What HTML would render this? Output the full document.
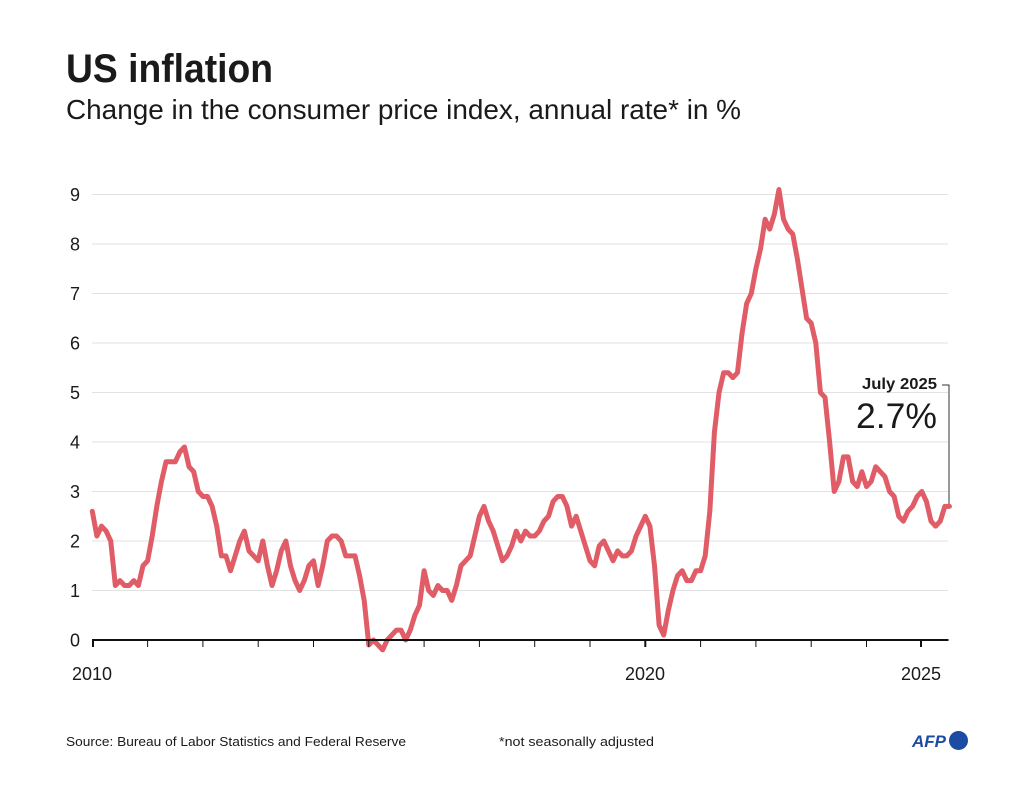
<!DOCTYPE html>
<html>
<head>
<meta charset="utf-8">
<style>
  html, body { margin: 0; padding: 0; background: #ffffff; }
  svg { display: block; }
  text { font-family: "Liberation Sans", "DejaVu Sans", sans-serif; fill: #1a1a1a; }
</style>
</head>
<body>
<svg width="1024" height="803" viewBox="0 0 1024 803" xmlns="http://www.w3.org/2000/svg">
  <rect width="1024" height="803" fill="#ffffff"/>

  <!-- Title -->
  <text x="66" y="82" font-size="40" font-weight="bold" textLength="207" lengthAdjust="spacingAndGlyphs">US inflation</text>
  <text x="66" y="119" font-size="28" textLength="675" lengthAdjust="spacingAndGlyphs">Change in the consumer price index, annual rate* in %</text>

  <!-- Gridlines -->
  <g stroke="#e2e2e2" stroke-width="1">
    <line x1="92" y1="590.5" x2="948" y2="590.5"/>
    <line x1="92" y1="541" x2="948" y2="541"/>
    <line x1="92" y1="491.5" x2="948" y2="491.5"/>
    <line x1="92" y1="442" x2="948" y2="442"/>
    <line x1="92" y1="392.5" x2="948" y2="392.5"/>
    <line x1="92" y1="343" x2="948" y2="343"/>
    <line x1="92" y1="293.5" x2="948" y2="293.5"/>
    <line x1="92" y1="244" x2="948" y2="244"/>
    <line x1="92" y1="194.5" x2="948" y2="194.5"/>
  </g>

  <!-- Y labels -->
  <g font-size="18" text-anchor="middle">
    <text x="75" y="646.5">0</text>
    <text x="75" y="597">1</text>
    <text x="75" y="547.5">2</text>
    <text x="75" y="498">3</text>
    <text x="75" y="448.5">4</text>
    <text x="75" y="399">5</text>
    <text x="75" y="349.5">6</text>
    <text x="75" y="300">7</text>
    <text x="75" y="250.5">8</text>
    <text x="75" y="201">9</text>
  </g>

  <!-- Annotation bracket -->
  <polyline points="942,385 949,385 949,506" fill="none" stroke="#333" stroke-width="1"/>
  <text x="937" y="389" font-size="16" font-weight="bold" text-anchor="end" textLength="75" lengthAdjust="spacingAndGlyphs">July 2025</text>
  <text x="937" y="428" font-size="35" text-anchor="end" fill="#222" textLength="81" lengthAdjust="spacingAndGlyphs">2.7%</text>

  <!-- Data line -->
  <g transform="translate(92.3,640) scale(4.6083,-49.5)">
    <polyline fill="none" stroke="#e05c66" stroke-width="5" stroke-linejoin="round" stroke-linecap="round" vector-effect="non-scaling-stroke"
      points="0,2.6 1,2.1 2,2.3 3,2.2 4,2.0 5,1.1 6,1.2 7,1.1 8,1.1 9,1.2 10,1.1 11,1.5
      12,1.6 13,2.1 14,2.7 15,3.2 16,3.6 17,3.6 18,3.6 19,3.8 20,3.9 21,3.5 22,3.4 23,3.0
      24,2.9 25,2.9 26,2.7 27,2.3 28,1.7 29,1.7 30,1.4 31,1.7 32,2.0 33,2.2 34,1.8 35,1.7
      36,1.6 37,2.0 38,1.5 39,1.1 40,1.4 41,1.8 42,2.0 43,1.5 44,1.2 45,1.0 46,1.2 47,1.5
      48,1.6 49,1.1 50,1.5 51,2.0 52,2.1 53,2.1 54,2.0 55,1.7 56,1.7 57,1.7 58,1.3 59,0.8
      60,-0.1 61,0.0 62,-0.1 63,-0.2 64,0.0 65,0.1 66,0.2 67,0.2 68,0.0 69,0.2 70,0.5 71,0.7
      72,1.4 73,1.0 74,0.9 75,1.1 76,1.0 77,1.0 78,0.8 79,1.1 80,1.5 81,1.6 82,1.7 83,2.1
      84,2.5 85,2.7 86,2.4 87,2.2 88,1.9 89,1.6 90,1.7 91,1.9 92,2.2 93,2.0 94,2.2 95,2.1
      96,2.1 97,2.2 98,2.4 99,2.5 100,2.8 101,2.9 102,2.9 103,2.7 104,2.3 105,2.5 106,2.2 107,1.9
      108,1.6 109,1.5 110,1.9 111,2.0 112,1.8 113,1.6 114,1.8 115,1.7 116,1.7 117,1.8 118,2.1 119,2.3
      120,2.5 121,2.3 122,1.5 123,0.3 124,0.1 125,0.6 126,1.0 127,1.3 128,1.4 129,1.2 130,1.2 131,1.4
      132,1.4 133,1.7 134,2.6 135,4.2 136,5.0 137,5.4 138,5.4 139,5.3 140,5.4 141,6.2 142,6.8 143,7.0
      144,7.5 145,7.9 146,8.5 147,8.3 148,8.6 149,9.1 150,8.5 151,8.3 152,8.2 153,7.7 154,7.1 155,6.5
      156,6.4 157,6.0 158,5.0 159,4.9 160,4.0 161,3.0 162,3.2 163,3.7 164,3.7 165,3.2 166,3.1 167,3.4
      168,3.1 169,3.2 170,3.5 171,3.4 172,3.3 173,3.0 174,2.9 175,2.5 176,2.4 177,2.6 178,2.7 179,2.9
      180,3.0 181,2.8 182,2.4 183,2.3 184,2.4 185,2.7 186,2.7"/>
  </g>

  <!-- X axis -->
  <line x1="92" y1="640" x2="948.5" y2="640" stroke="#111" stroke-width="2"/>
  <g stroke="#111" stroke-width="1">
    <line x1="147.6" y1="640" x2="147.6" y2="647"/>
    <line x1="202.9" y1="640" x2="202.9" y2="647"/>
    <line x1="258.2" y1="640" x2="258.2" y2="647"/>
    <line x1="313.5" y1="640" x2="313.5" y2="647"/>
    <line x1="368.8" y1="640" x2="368.8" y2="647"/>
    <line x1="424.1" y1="640" x2="424.1" y2="647"/>
    <line x1="479.4" y1="640" x2="479.4" y2="647"/>
    <line x1="534.7" y1="640" x2="534.7" y2="647"/>
    <line x1="590.0" y1="640" x2="590.0" y2="647"/>
    <line x1="700.6" y1="640" x2="700.6" y2="647"/>
    <line x1="755.9" y1="640" x2="755.9" y2="647"/>
    <line x1="811.2" y1="640" x2="811.2" y2="647"/>
    <line x1="866.5" y1="640" x2="866.5" y2="647"/>
  </g>
  <g stroke="#111" stroke-width="2">
    <line x1="93" y1="640" x2="93" y2="647"/>
    <line x1="645.3" y1="640" x2="645.3" y2="647"/>
    <line x1="921" y1="640" x2="921" y2="647"/>
  </g>

  <!-- X labels -->
  <g font-size="18" text-anchor="middle">
    <text x="92" y="680">2010</text>
    <text x="645" y="680">2020</text>
    <text x="921" y="680">2025</text>
  </g>

  <!-- Footer -->
  <text x="66" y="746" font-size="13" textLength="340" lengthAdjust="spacingAndGlyphs">Source: Bureau of Labor Statistics and Federal Reserve</text>
  <text x="499" y="746" font-size="13" textLength="155" lengthAdjust="spacingAndGlyphs">*not seasonally adjusted</text>

  <!-- AFP logo -->
  <text x="912" y="747" font-size="17" font-weight="bold" font-style="italic" fill="#1c4ba3" style="fill:#1c4ba3" textLength="34" lengthAdjust="spacingAndGlyphs">AFP</text>
  <circle cx="958.5" cy="740.5" r="9.5" fill="#1c4ba3"/>
</svg>
</body>
</html>
